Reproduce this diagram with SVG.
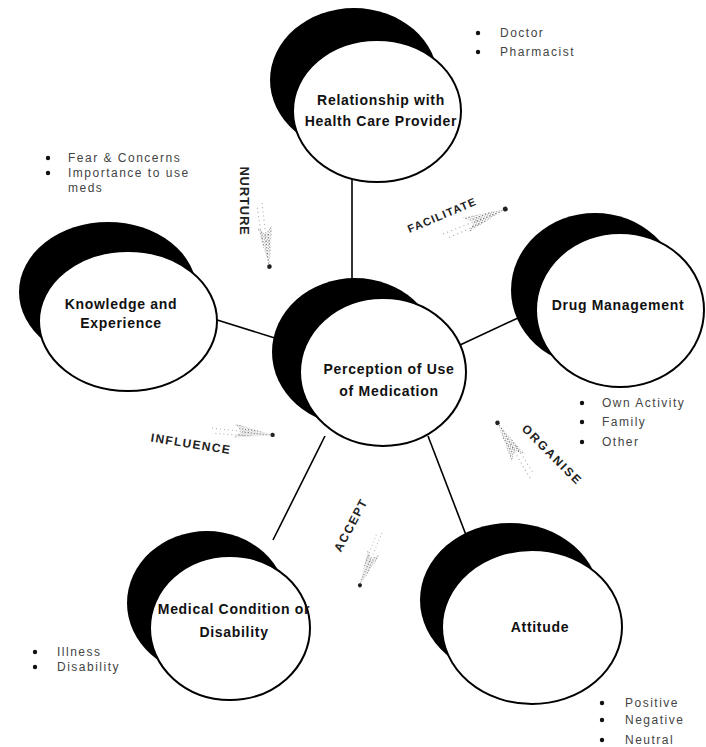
<svg xmlns="http://www.w3.org/2000/svg" width="706" height="747" viewBox="0 0 706 747">
<style>
.shadow{fill:#000}
.face{fill:#fff;stroke:#000;stroke-width:2}
.lbl{font-family:"Liberation Sans",Arial,sans-serif;font-weight:bold;font-size:14px;letter-spacing:0.7px;fill:#111;text-anchor:middle}
.bul{font-family:"Liberation Sans",Arial,sans-serif;font-size:12px;letter-spacing:1.5px;fill:#444}
.dot{fill:#111}
.verb{font-family:"Liberation Sans",Arial,sans-serif;font-weight:bold;fill:#222;text-anchor:middle}
.conn line{stroke:#000;stroke-width:1.6}
.shaft{stroke:#aaa;stroke-width:1;stroke-dasharray:1 3;fill:none}
.head{fill:url(#stip)}
.tip{fill:#222}
</style>
<defs>
<pattern id="stip" width="3" height="3" patternUnits="userSpaceOnUse">
<rect width="1.2" height="1.2" fill="#666"/>
<rect x="1.5" y="1.5" width="1" height="1" fill="#999"/>
</pattern>
<g id="arr">
<line class="shaft" x1="0" y1="0" x2="40" y2="0"/>
<line class="shaft" x1="4" y1="5" x2="36" y2="4"/>
<polygon class="head" points="22,-7 62,0 22,7 30,0"/>
<circle class="tip" cx="61" cy="0" r="2.2"/>
</g>
</defs>
<rect width="706" height="747" fill="#fff"/>

<g id="connectors" class="conn">
<line x1="352" y1="178" x2="352" y2="285"/>
<line x1="214" y1="319" x2="278" y2="339"/>
<line x1="460" y1="345" x2="518" y2="318"/>
<line x1="325" y1="436" x2="273" y2="540"/>
<line x1="428" y1="436" x2="466" y2="535"/>
</g>

<g id="arrows">
<use href="#arr" transform="translate(262,203) rotate(83.3) scale(1.05)"/>
<use href="#arr" transform="translate(443,234) rotate(-21.8) scale(1.1)"/>
<use href="#arr" transform="translate(212,428) rotate(6.5) scale(1)"/>
<use href="#arr" transform="translate(530,478) rotate(-120.5) scale(1.05)"/>
<use href="#arr" transform="translate(382,533) rotate(112.9) scale(0.93)"/>
</g>

<g id="verbs">
<text class="verb" font-size="13" letter-spacing="0.8" transform="translate(244,201) rotate(90)" x="0" y="4.5">NURTURE</text>
<text class="verb" font-size="11" letter-spacing="1.2" transform="translate(442,215) rotate(-23)" x="0" y="4">FACILITATE</text>
<text class="verb" font-size="12" letter-spacing="1.4" transform="translate(191,444) rotate(9)" x="0" y="4">INFLUENCE</text>
<text class="verb" font-size="12" letter-spacing="2" transform="translate(552,455) rotate(45)" x="0" y="4">ORGANISE</text>
<text class="verb" font-size="12" letter-spacing="1.5" transform="translate(351,525) rotate(-62)" x="0" y="4">ACCEPT</text>
</g>

<g id="node-provider">
<ellipse class="shadow" cx="354" cy="80" rx="84" ry="72"/>
<ellipse class="face" cx="377" cy="111" rx="84" ry="71"/>
<text class="lbl" x="381" y="105">Relationship with</text>
<text class="lbl" x="381" y="126">Health Care Provider</text>
</g>

<g id="node-knowledge">
<ellipse class="shadow" cx="108" cy="292" rx="89" ry="70"/>
<ellipse class="face" cx="128" cy="321" rx="89" ry="70"/>
<text class="lbl" x="121" y="309">Knowledge and</text>
<text class="lbl" x="121" y="328">Experience</text>
</g>

<g id="node-drug">
<ellipse class="shadow" cx="595" cy="290" rx="84" ry="77"/>
<ellipse class="face" cx="620" cy="310" rx="84" ry="77"/>
<text class="lbl" x="618" y="310">Drug Management</text>
</g>

<g id="node-perception">
<ellipse class="shadow" cx="355" cy="352" rx="83" ry="74"/>
<ellipse class="face" cx="383" cy="372" rx="83" ry="74"/>
<text class="lbl" x="389" y="374">Perception of Use</text>
<text class="lbl" x="389" y="396">of Medication</text>
</g>

<g id="node-medical">
<ellipse class="shadow" cx="207" cy="603" rx="80" ry="72"/>
<ellipse class="face" cx="230" cy="628" rx="80" ry="72"/>
<text class="lbl" x="234" y="614">Medical Condition or</text>
<text class="lbl" x="234" y="637">Disability</text>
</g>

<g id="node-attitude">
<ellipse class="shadow" cx="510" cy="600" rx="90" ry="77"/>
<ellipse class="face" cx="532" cy="627" rx="90" ry="77"/>
<text class="lbl" x="540" y="632">Attitude</text>
</g>

<g id="list-provider">
<circle class="dot" cx="478" cy="33" r="2.2"/>
<circle class="dot" cx="478" cy="52" r="2.2"/>
<text class="bul" x="500" y="37">Doctor</text>
<text class="bul" x="500" y="56">Pharmacist</text>
</g>

<g id="list-knowledge">
<circle class="dot" cx="48" cy="158" r="2.2"/>
<circle class="dot" cx="48" cy="173" r="2.2"/>
<text class="bul" x="68" y="162">Fear &amp; Concerns</text>
<text class="bul" x="68" y="177">Importance to use</text>
<text class="bul" x="68" y="192">meds</text>
</g>

<g id="list-drug">
<circle class="dot" cx="582" cy="403" r="2.2"/>
<circle class="dot" cx="582" cy="422" r="2.2"/>
<circle class="dot" cx="582" cy="442" r="2.2"/>
<text class="bul" x="602" y="407">Own Activity</text>
<text class="bul" x="602" y="426">Family</text>
<text class="bul" x="602" y="446">Other</text>
</g>

<g id="list-medical">
<circle class="dot" cx="35" cy="652" r="2.2"/>
<circle class="dot" cx="35" cy="667" r="2.2"/>
<text class="bul" x="57" y="656">Illness</text>
<text class="bul" x="57" y="671">Disability</text>
</g>

<g id="list-attitude">
<circle class="dot" cx="602" cy="703" r="2.2"/>
<circle class="dot" cx="602" cy="720" r="2.2"/>
<circle class="dot" cx="602" cy="740" r="2.2"/>
<text class="bul" x="625" y="707">Positive</text>
<text class="bul" x="625" y="724">Negative</text>
<text class="bul" x="625" y="744">Neutral</text>
</g>
</svg>
